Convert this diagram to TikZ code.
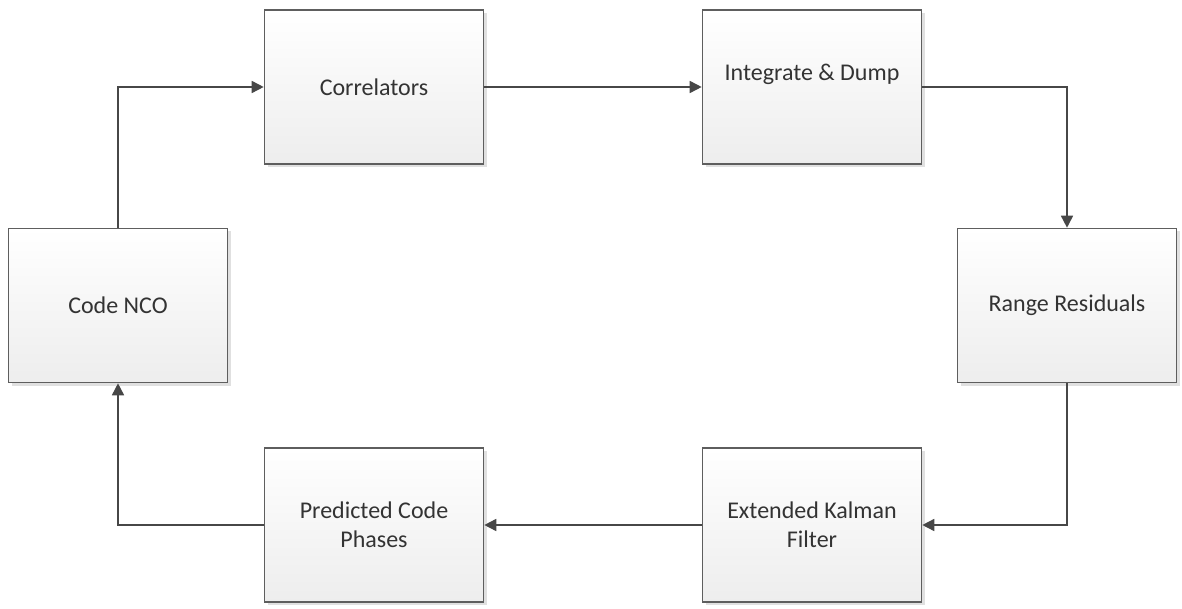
\documentclass[tikz,border=0pt]{standalone}
\usepackage{fontspec}
\setmainfont{Carlito}
\usetikzlibrary{arrows.meta,shadows}

\definecolor{boxline}{HTML}{5E5E5E}
\definecolor{wireline}{HTML}{474747}
\definecolor{boxtext}{HTML}{333333}

\begin{document}
\begin{tikzpicture}[x=1pt,y=-1pt,
	block/.style={draw=boxline,line width=1.6pt,top color=white,bottom color=black!7,
		minimum width=219pt,minimum height=154pt,align=center,text=boxtext,
		font=\fontsize{24}{29}\selectfont,
		drop shadow={shadow xshift=3pt,shadow yshift=-3pt,fill=black!12,opacity=1}},
	wire/.style={draw=wireline,line width=1.6pt,-{Triangle[length=12pt,width=12pt]}}]

	\useasboundingbox (0,0) rectangle (1182,609);

	% top row
	\node[block] (corr) at (374,87) {Correlators};
	\node[block] (intdump) at (812,87) {Integrate \& Dump\\\mbox{}};
	% middle row
	\node[block] (nco) at (118,305.5) {Code NCO};
	\node[block] (range) at (1067,305.5) {Range Residuals};
	% bottom row
	\node[block] (pred) at (374,525) {Predicted Code\\Phases};
	\node[block] (ekf) at (812,525) {Extended Kalman\\Filter};

	\draw[wire] (nco.north) |- (corr.west);
	\draw[wire] (corr.east) -- (intdump.west);
	\draw[wire] (intdump.east) -| (range.north);
	\draw[wire] (range.south) |- (ekf.east);
	\draw[wire] (ekf.west) -- (pred.east);
	\draw[wire] (pred.west) -| (nco.south);
\end{tikzpicture}
\end{document}
